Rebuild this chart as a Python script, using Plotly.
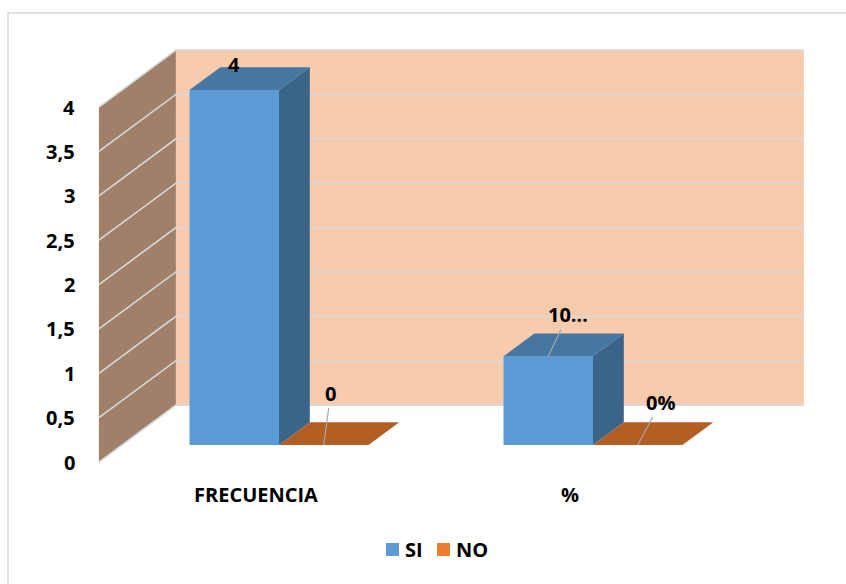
import plotly.graph_objects as go

# ---- data ----
categories = ["FRECUENCIA", "%"]
series_names = ["SI", "NO"]
si_values = [4, 1]          # SI: 4 respuestas, 100 %
no_values = [0, 0]          # NO: 0 respuestas, 0 %
si_labels = ["4", "10…"]
no_labels = ["0", "0%"]
y_ticks = [0, 0.5, 1, 1.5, 2, 2.5, 3, 3.5, 4]
y_tick_labels = ["0", "0,5", "1", "1,5", "2", "2,5", "3", "3,5", "4"]

# ---- geometry of the pseudo-3D frame ----
W, H = 846, 584
PX_PER_CAT = 314.0          # pixels between category centres
PX_PER_VAL = 88.75          # pixels per value unit
ORIGIN_X, ORIGIN_Y = 279.0, 445.0   # pixel position of (0, 0) on the bar plane
DEPTH_X = 77.0 / PX_PER_CAT         # full depth shift, in axis units
DEPTH_Y = 57.0 / PX_PER_VAL
BAR_PLANE = 0.3             # depth of bar front faces (0 = front, 1 = back wall)
BAR_BACK = 0.7
BAR_W = 0.285
WALL_X0, WALL_X1 = -0.5, len(categories) - 0.5
WALL_TOP = max(y_ticks)

FONT = "Open Sans"
FONT_SIZE = 20
BLUE, BLUE_TOP, BLUE_SIDE = "#5B9BD5", "#4677A3", "#3B6489"
ORANGE, ORANGE_TOP = "#ED7D31", "#B35F23"
GRID = "#D9D9D9"


def proj(x, y, d):
    """Shift a point on the bar plane to depth d."""
    return x + (d - BAR_PLANE) * DEPTH_X, y + (d - BAR_PLANE) * DEPTH_Y


def path(points):
    return "M " + " L ".join(f"{px:.5f},{py:.5f}" for px, py in points) + " Z"


shapes = []
# back wall
shapes.append(dict(type="path", xref="x", yref="y", layer="below",
                   path=path([proj(WALL_X0, 0, 1), proj(WALL_X1, 0, 1),
                              proj(WALL_X1, WALL_TOP, 1), proj(WALL_X0, WALL_TOP, 1)]),
                   fillcolor="#F8CBAD", line=dict(width=0)))
# side wall
shapes.append(dict(type="path", xref="x", yref="y", layer="below",
                   path=path([proj(WALL_X0, 0, 0), proj(WALL_X0, 0, 1),
                              proj(WALL_X0, WALL_TOP, 1), proj(WALL_X0, WALL_TOP, 0)]),
                   fillcolor="#A0806A", line=dict(width=0)))
# gridlines across both walls
for v in y_ticks:
    a, b, c = proj(WALL_X0, v, 0), proj(WALL_X0, v, 1), proj(WALL_X1, v, 1)
    shapes.append(dict(type="path", xref="x", yref="y", layer="below",
                       path=f"M {a[0]},{a[1]} L {b[0]},{b[1]} L {c[0]},{c[1]}",
                       line=dict(color=GRID, width=1.6)))
# outer chart border
shapes.append(dict(type="rect", xref="paper", yref="paper",
                   x0=8 / W, x1=1.05, y0=-0.05, y1=1 - 13 / H,
                   line=dict(color=GRID, width=1.5), layer="below"))

fig = go.Figure()


def face(points, color):
    xs = [p[0] for p in points] + [points[0][0]]
    ys = [p[1] for p in points] + [points[0][1]]
    fig.add_trace(go.Scatter(x=xs, y=ys, mode="lines", fill="toself",
                             fillcolor=color, line=dict(width=0),
                             hoverinfo="skip", showlegend=False))


# front faces of the bars
fig.add_trace(go.Bar(name=series_names[0], x=list(range(len(categories))), y=si_values,
                     width=BAR_W, offset=-BAR_W, showlegend=False,
                     marker=dict(color=BLUE, line=dict(width=0))))
fig.add_trace(go.Bar(name=series_names[1], x=list(range(len(categories))), y=no_values,
                     width=BAR_W, offset=0, showlegend=False,
                     marker=dict(color=ORANGE, line=dict(width=0))))

# top / side faces
for i, (s, n) in enumerate(zip(si_values, no_values)):
    # NO bar
    face([proj(i, n, BAR_PLANE), proj(i + BAR_W, n, BAR_PLANE),
          proj(i + BAR_W, n, BAR_BACK), proj(i, n, BAR_BACK)], ORANGE_TOP)
    if n > 0:
        face([proj(i + BAR_W, 0, BAR_PLANE), proj(i + BAR_W, 0, BAR_BACK),
              proj(i + BAR_W, n, BAR_BACK), proj(i + BAR_W, n, BAR_PLANE)], "#A6561F")
    # SI bar
    face([proj(i, 0, BAR_PLANE), proj(i, 0, BAR_BACK),
          proj(i, s, BAR_BACK), proj(i, s, BAR_PLANE)], BLUE_SIDE)
    face([proj(i - BAR_W, s, BAR_PLANE), proj(i, s, BAR_PLANE),
          proj(i, s, BAR_BACK), proj(i - BAR_W, s, BAR_BACK)], BLUE_TOP)

annotations = []
lab_font = dict(family=FONT, size=FONT_SIZE, color="#000000", weight="bold")
# value-axis labels on the front edge of the side wall
for v, t in zip(y_ticks, y_tick_labels):
    px_, py_ = proj(WALL_X0, v, 0)
    annotations.append(dict(x=px_, y=py_, text=t, showarrow=False, xanchor="right",
                            yanchor="middle", xshift=-22, font=lab_font))
# category labels on the front edge of the floor
for i, c in enumerate(categories):
    px_, py_ = proj(i, 0, 0)
    annotations.append(dict(x=px_, y=py_, text=c, showarrow=False, xanchor="center",
                            yanchor="middle", yshift=-32, font=lab_font))

# data labels
label_offsets_si = [None, (20, -42)]
label_offsets_no = [(7, -52), (23, -43)]
for i, (s, n) in enumerate(zip(si_values, no_values)):
    off = label_offsets_si[i]
    if off is None:
        annotations.append(dict(x=i - BAR_W / 2, y=s, text=si_labels[i], showarrow=False,
                                yanchor="middle", yshift=26, font=lab_font))
    else:
        annotations.append(dict(x=i - BAR_W / 2, y=s, text=si_labels[i], showarrow=True,
                                arrowhead=0, arrowwidth=1.2, arrowcolor="#A6A6A6",
                                ax=off[0], ay=off[1], standoff=0, font=lab_font))
    off = label_offsets_no[i]
    annotations.append(dict(x=i + BAR_W / 2, y=n, text=no_labels[i], showarrow=True,
                            arrowhead=0, arrowwidth=1.2, arrowcolor="#A6A6A6",
                            ax=off[0], ay=off[1], standoff=0, font=lab_font))

# legend: square key + bold name for each series
LEG_Y = 549.5          # pixel centre line of the legend row
KEY = 13               # key size in pixels
for name, color, key_x in zip(series_names, (BLUE, ORANGE), (386, 437)):
    shapes.append(dict(type="rect", xref="paper", yref="paper",
                       x0=key_x / W, x1=(key_x + KEY) / W,
                       y0=1 - (LEG_Y + KEY / 2) / H, y1=1 - (LEG_Y - KEY / 2) / H,
                       fillcolor=color, line=dict(width=0)))
    annotations.append(dict(xref="paper", yref="paper", x=(key_x + KEY + 4) / W,
                            y=1 - LEG_Y / H, text=name, showarrow=False,
                            xanchor="left", yanchor="middle", font=lab_font))

fig.update_layout(
    width=W, height=H,
    margin=dict(l=0, r=0, t=0, b=0),
    paper_bgcolor="white", plot_bgcolor="white",
    barmode="overlay",
    xaxis=dict(range=[-ORIGIN_X / PX_PER_CAT, (W - ORIGIN_X) / PX_PER_CAT],
               visible=False, fixedrange=True),
    yaxis=dict(range=[(ORIGIN_Y - H) / PX_PER_VAL, ORIGIN_Y / PX_PER_VAL],
               visible=False, fixedrange=True),
    shapes=shapes,
    annotations=annotations,
    showlegend=False,
)

fig.write_html("out.html")
